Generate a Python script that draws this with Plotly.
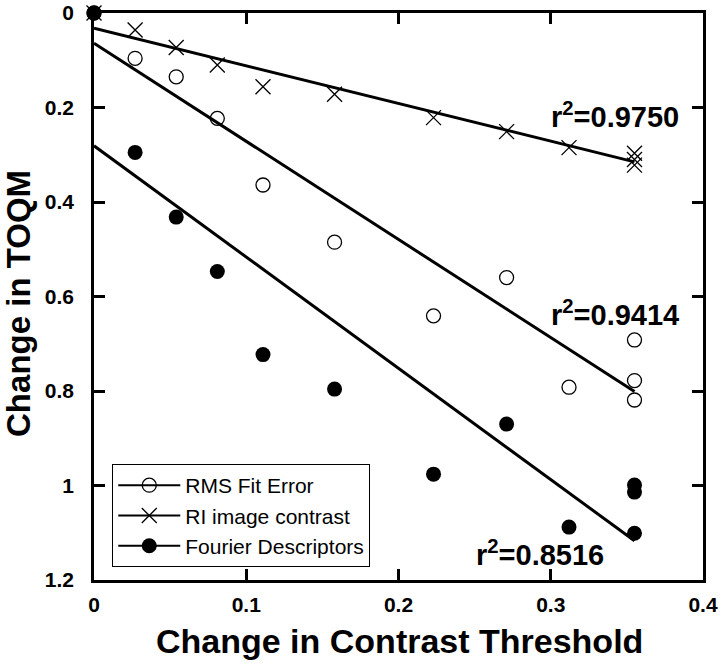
import plotly.graph_objects as go

# Data
contrast_x = [0, 0.027, 0.054, 0.081, 0.111, 0.158, 0.223, 0.271, 0.312, 0.355, 0.355, 0.355]
rms_y = [0, 0.096, 0.135, 0.223, 0.364, 0.485, 0.641, 0.560, 0.792, 0.692, 0.778, 0.819]
ri_y = [0, 0.036, 0.073, 0.110, 0.156, 0.172, 0.2215, 0.251, 0.285, 0.297, 0.310, 0.322]
fd_y = [0, 0.295, 0.432, 0.547, 0.723, 0.796, 0.976, 0.870, 1.088, 0.999, 1.014, 1.101]

fit_x = [0, 0.355]
rms_fit = [0.064, 0.801]
ri_fit = [0.032, 0.315]
fd_fit = [0.281, 1.117]

series_names = ["RMS Fit Error", "RI image contrast", "Fourier Descriptors"]
r2_labels = ["r<sup>2</sup>=0.9750", "r<sup>2</sup>=0.9414", "r<sup>2</sup>=0.8516"]
r2_x = [0.342, 0.342, 0.293]
r2_y = [0.215, 0.635, 1.142]

x_ticks = [0, 0.1, 0.2, 0.3, 0.4]
y_ticks = [0, 0.2, 0.4, 0.6, 0.8, 1.0, 1.2]
x_title = "Change in Contrast Threshold"
y_title = "Change in TOQM"

FONT = "Liberation Sans, Arial, sans-serif"

fig = go.Figure()

# fit lines
for fy in [rms_fit, ri_fit, fd_fit]:
    fig.add_trace(go.Scatter(x=fit_x, y=fy, mode="lines",
                             line=dict(color="black", width=3),
                             showlegend=False, hoverinfo="skip", cliponaxis=False))

marker_styles = [
    dict(symbol="circle-open", size=14, color="black", line=dict(width=1.3, color="black")),
    dict(symbol="x-thin-open", size=15, color="black", line=dict(width=1.3, color="black")),
    dict(symbol="circle", size=15, color="black", line=dict(width=0)),
]

for ys, ms in zip([rms_y, ri_y, fd_y], marker_styles):
    fig.add_trace(go.Scatter(x=contrast_x, y=ys, mode="markers", marker=ms,
                             showlegend=False, cliponaxis=False))

# legend entries
for name, ms in zip(series_names, marker_styles):
    fig.add_trace(go.Scatter(x=[None], y=[None], mode="lines+markers", name=name,
                             marker=ms, line=dict(color="black", width=2)))

for txt, ax_, ay_ in zip(r2_labels, r2_x, r2_y):
    fig.add_annotation(x=ax_, y=ay_, text="<b>" + txt + "</b>", showarrow=False,
                       font=dict(size=29, color="black", family=FONT),
                       xanchor="center", yanchor="middle")

# axis titles
fig.add_annotation(xref="paper", yref="paper", x=0.502, y=-0.108,
                   text="<b>" + x_title + "</b>", showarrow=False,
                   font=dict(size=34, color="black", family=FONT),
                   xanchor="center", yanchor="middle", borderpad=0)
fig.add_annotation(xref="paper", yref="paper", x=-0.123, y=0.487,
                   text="<b>" + y_title + "</b>", showarrow=False, textangle=-90,
                   font=dict(size=33, color="black", family=FONT),
                   xanchor="center", yanchor="middle", borderpad=0)

axis_common = dict(
    showline=True, linecolor="black", linewidth=2.5, mirror="allticks",
    ticks="inside", ticklen=11, tickwidth=2.5, tickcolor="black",
    showgrid=False, zeroline=False, automargin=False,
    ticklabeloverflow="allow",
    tickfont=dict(size=21, color="black", family=FONT),
)

fig.update_layout(
    width=720, height=665,
    margin=dict(l=94, r=17, t=13, b=85),
    paper_bgcolor="white", plot_bgcolor="white",
    font=dict(family=FONT, color="black"),
    xaxis=dict(range=[0, 0.4], tickvals=x_ticks,
               ticktext=["<b>%s</b>" % ("0" if v == 0 else ("%g" % v)) for v in x_ticks],
               ticklabelstandoff=4,
               **axis_common),
    yaxis=dict(range=[1.2, 0], tickvals=y_ticks,
               ticktext=["<b>%g</b>" % v for v in y_ticks],
               ticklabelstandoff=13,
               **axis_common),
    legend=dict(x=0.03, y=0.2046, xanchor="left", yanchor="top",
                bgcolor="white", bordercolor="black", borderwidth=1,
                font=dict(size=21, color="black", family=FONT),
                tracegroupgap=0, itemwidth=62),
)

fig.write_html(
    "out.html",
    config={"displayModeBar": False},
    post_script="document.body.style.margin='0';document.body.style.overflow='hidden';"
                "document.documentElement.style.overflow='hidden';",
)
